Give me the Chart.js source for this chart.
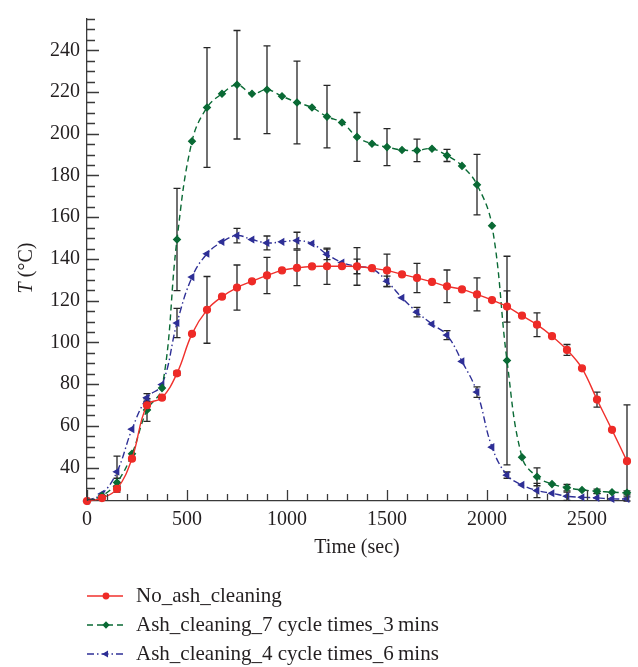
<!DOCTYPE html>
<html>
<head>
<meta charset="utf-8">
<script src="https://cdn.jsdelivr.net/npm/chart.js@4.4.1/dist/chart.umd.min.js"></script>
<style>
  html, body { margin: 0; padding: 0; background: #fff; }
  #wrap { width: 638px; height: 667px; }
</style>
</head>
<body>
<div id="wrap"><canvas id="chart" width="638" height="667"></canvas></div>
<script>
// time samples (sec)
const times = [0, 75, 150, 225, 300, 375, 450, 525, 600, 675, 750, 825, 900, 975, 1050, 1125,
  1200, 1275, 1350, 1425, 1500, 1575, 1650, 1725, 1800, 1875, 1950, 2025, 2100, 2175, 2250,
  2325, 2400, 2475, 2550, 2625, 2700];

const noCleaning = [24, 25.4, 29.8, 44.3, 69.9, 73.5, 85.2, 104.1, 115.6, 121.9, 126.3, 129.3,
  132.1, 134.5, 135.7, 136.4, 136.5, 136.5, 136.4, 135.6, 134.5, 132.6, 130.9, 129.0, 126.9,
  125.4, 123.0, 120.3, 117.2, 112.8, 108.5, 103.0, 96.4, 87.6, 72.6, 58.1, 43.1];

const cleaning3min = [24, 26.5, 32.9, 46.6, 67.6, 78.1, 149.3, 196.4, 212.6, 219.2, 223.5, 219.2,
  221.1, 218.0, 215.0, 212.6, 208.2, 205.4, 198.5, 195.2, 193.6, 192.2, 192.0, 192.8, 189.6,
  184.6, 175.6, 155.9, 91.3, 45.0, 35.6, 32.1, 30.4, 29.3, 28.7, 28.2, 27.9];

const cleaning6min = [24, 27.4, 38, 58.4, 73.5, 79.8, 109.3, 131.3, 142.5, 148.2, 151.2, 149.3,
  147.7, 148.2, 148.8, 147.4, 142.2, 138.3, 136.4, 135.3, 129.3, 121.4, 114.5, 108.8, 103.5,
  90.9, 76.2, 49.8, 36.4, 31.7, 29.0, 27.7, 26.3, 25.8, 25.5, 25.0, 25.0];

// error bars (half width) at these times
const errTimes = [150, 300, 450, 600, 750, 900, 1050, 1200, 1350, 1500, 1650, 1800, 1950, 2100,
  2250, 2400, 2550, 2700];
const errNoCleaning = [1.5, 2, 1, 16, 10.8, 8.7, 8.5, 8.7, 9, 7.8, 7, 7.8, 7.9, 7.5, 5.7, 2.6, 3.6, 27];
const err3min = [2, 5.4, 24.5, 28.7, 26, 21, 19.8, 15, 11.7, 8.9, 5.4, 2.9, 14.5, 50, 4.3, 1.5, 1, 1];
const err6min = [7.5, 2, 7, null, 3.5, 3.3, 4, 2.5, 3.5, 2.5, 2.3, 2.2, 2.5, 1.5, 3.4, 2, 2, 1];

const seriesNames = ["No_ash_cleaning", "Ash_cleaning_7 cycle times_3\u2009mins", "Ash_cleaning_4 cycle times_6\u2009mins"];

const xLabels = [0, 500, 1000, 1500, 2000, 2500];
const yLabels = [40, 60, 80, 100, 120, 140, 160, 180, 200, 220, 240];

const FONT = "'Liberation Serif', 'DejaVu Serif', serif";
const TEXT = "#231f20";
const AXIS = "#3a3a3a";

function pts(ys) {
    return times.map((t, i) => ({ x: t, y: ys[i] }));
}

/* -------------------------------
   PLUGINS
--------------------------------*/

const errorBars = {
    id: "errorBars",
    beforeDatasetsDraw(chart) {
        const ctx = chart.ctx;
        const x = chart.scales.x, y = chart.scales.y;
        const area = chart.chartArea;
        const sets = [errNoCleaning, err3min, err6min];
        ctx.save();
        ctx.strokeStyle = "#262626";
        ctx.lineWidth = 1.3;
        chart.data.datasets.forEach((ds, i) => {
            errTimes.forEach((t, k) => {
                const e = sets[i][k];
                if (e == null) return;
                const v = ds.data[times.indexOf(t)].y;
                const px = x.getPixelForValue(t);
                let top = y.getPixelForValue(v + e);
                let bot = y.getPixelForValue(v - e);
                const capTop = top >= area.top, capBot = bot <= area.bottom;
                top = Math.max(top, area.top);
                bot = Math.min(bot, area.bottom);
                ctx.beginPath();
                ctx.moveTo(px, top);
                ctx.lineTo(px, bot);
                if (capTop) { ctx.moveTo(px - 3.5, top); ctx.lineTo(px + 3.5, top); }
                if (capBot) { ctx.moveTo(px - 3.5, bot); ctx.lineTo(px + 3.5, bot); }
                ctx.stroke();
            });
        });
        ctx.restore();
    }
};

const innerTicks = {
    id: "innerTicks",
    afterDraw(chart) {
        const ctx = chart.ctx;
        const x = chart.scales.x, y = chart.scales.y;
        const area = chart.chartArea;
        ctx.save();
        ctx.strokeStyle = AXIS;
        ctx.lineWidth = 1.3;
        ctx.beginPath();
        y.ticks.forEach(t => {
            const py = Math.round(y.getPixelForValue(t.value)) + 0.5;
            const len = t.value % 20 === 0 ? 12 : 8;
            ctx.moveTo(area.left, py);
            ctx.lineTo(area.left + len, py);
        });
        x.ticks.forEach(t => {
            const px = Math.round(x.getPixelForValue(t.value)) + 0.5;
            const len = t.value % 500 === 0 ? 11 : 7;
            ctx.moveTo(px, area.bottom);
            ctx.lineTo(px, area.bottom - len);
        });
        ctx.stroke();

        // y title with italic T
        ctx.fillStyle = TEXT;
        ctx.translate(27, 268);
        ctx.rotate(-Math.PI / 2);
        ctx.textBaseline = "middle";
        ctx.font = "italic 20px " + FONT;
        const w1 = ctx.measureText("T").width;
        ctx.font = "20px " + FONT;
        const w2 = ctx.measureText(" (\u00b0C)").width;
        let sx = -(w1 + w2) / 2;
        ctx.font = "italic 20px " + FONT;
        ctx.fillText("T", sx, 0);
        ctx.font = "20px " + FONT;
        ctx.fillText(" (\u00b0C)", sx + w1, 0);
        ctx.restore();
    }
};

const bottomLegend = {
    id: "bottomLegend",
    afterDraw(chart) {
        const ctx = chart.ctx;
        const rows = [596, 625, 654];
        ctx.save();
        chart.data.datasets.forEach((ds, i) => {
            const yy = rows[i];
            ctx.strokeStyle = ds.borderColor;
            ctx.lineWidth = ds.borderWidth;
            ctx.setLineDash(ds.borderDash || []);
            ctx.beginPath();
            ctx.moveTo(87, yy);
            ctx.lineTo(123, yy);
            ctx.stroke();
            ctx.setLineDash([]);
            ctx.fillStyle = ds.pointBackgroundColor;
            ctx.strokeStyle = ds.pointBorderColor;
            Chart.helpers.drawPoint(ctx, {
                pointStyle: ds.pointStyle,
                radius: ds.pointRadius * 0.8,
                rotation: ds.pointRotation || 0,
                borderWidth: 1
            }, 106, yy);
            ctx.fillStyle = TEXT;
            ctx.font = "21px " + FONT;
            ctx.textBaseline = "middle";
            ctx.fillText(seriesNames[i], 136, yy);
        });
        ctx.restore();
    }
};

/* -------------------------------
   CHART
--------------------------------*/

new Chart(document.getElementById("chart"), {
    type: "line",
    data: {
        datasets: [
            {
                label: seriesNames[0],
                data: pts(noCleaning),
                borderColor: "#f0302c",
                borderWidth: 1.4,
                pointStyle: "circle",
                pointRadius: 3.4,
                pointBackgroundColor: "#ee2b27",
                pointBorderColor: "#ee2b27",
                tension: 0.4,
                clip: false
            },
            {
                label: seriesNames[1],
                data: pts(cleaning3min),
                borderColor: "#0a6a35",
                borderWidth: 1.4,
                borderDash: [6, 4],
                pointStyle: "rectRot",
                pointRadius: 3.3,
                pointBackgroundColor: "#0a6a35",
                pointBorderColor: "#0a6a35",
                tension: 0.4,
                clip: false
            },
            {
                label: seriesNames[2],
                data: pts(cleaning6min),
                borderColor: "#2e2f96",
                borderWidth: 1.4,
                borderDash: [7, 3, 1.5, 3],
                pointStyle: "triangle",
                pointRotation: 270,
                pointRadius: 3.3,
                pointBackgroundColor: "#2e2f96",
                pointBorderColor: "#2e2f96",
                tension: 0.4,
                clip: false
            }
        ]
    },
    options: {
        responsive: false,
        animation: false,
        layout: { padding: { left: 0, top: 11, right: 11, bottom: 106 } },
        plugins: {
            legend: { display: false },
            tooltip: { enabled: false }
        },
        scales: {
            x: {
                type: "linear",
                min: 0,
                max: 2700,
                afterBuildTicks(scale) {
                    const t = [];
                    for (let v = 0; v <= 2700; v += 100) t.push({ value: v });
                    scale.ticks = t;
                },
                afterFit(scale) { scale.height = 60; },
                grid: { display: false, drawTicks: false },
                border: { display: true, color: AXIS, width: 1.3 },
                ticks: {
                    autoSkip: false,
                    maxRotation: 0,
                    padding: 7,
                    color: TEXT,
                    font: { family: FONT, size: 20 },
                    callback: v => xLabels.includes(v) ? String(v) : ""
                },
                title: {
                    display: true,
                    text: "Time (sec)",
                    color: TEXT,
                    font: { family: FONT, size: 20 },
                    padding: { top: 0, bottom: 1 }
                }
            },
            y: {
                min: 24,
                max: 255,
                afterBuildTicks(scale) {
                    const t = [];
                    for (let v = 25; v <= 255; v += 5) t.push({ value: v });
                    scale.ticks = t;
                },
                afterFit(scale) { scale.width = 87; },
                grid: { display: false, drawTicks: false },
                border: { display: true, color: AXIS, width: 1.3 },
                ticks: {
                    autoSkip: false,
                    padding: 7,
                    color: TEXT,
                    font: { family: FONT, size: 20 },
                    callback: v => yLabels.includes(v) ? String(v) : ""
                }
            }
        }
    },
    plugins: [errorBars, innerTicks, bottomLegend]
});
</script>
</body>
</html>
